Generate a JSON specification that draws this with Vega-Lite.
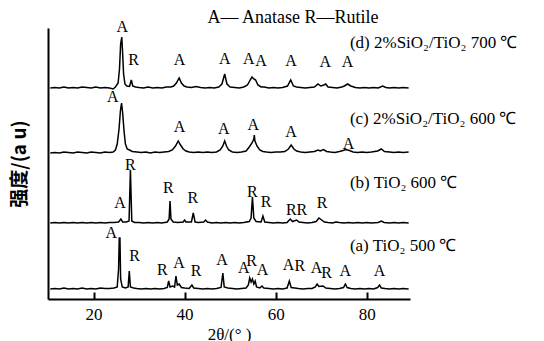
{
  "$schema": "https://vega.github.io/schema/vega-lite/v6.json",
  "width": 362,
  "height": 271,
  "autosize": "none",
  "padding": {"left": 48, "top": 28, "right": 134, "bottom": 42},
  "background": "white",
  "config": {"view": {"stroke": null}},
  "datasets": {
    "xrd": [
      {"s":"d","t":10.5,"v":211},{"s":"d","t":11.5,"v":211.5},{"s":"d","t":12.5,"v":211},{"s":"d","t":13.5,"v":212},{"s":"d","t":14.5,"v":211},{"s":"d","t":15.5,"v":211.5},{"s":"d","t":16.5,"v":211},{"s":"d","t":17.5,"v":212},{"s":"d","t":18.5,"v":211.5},{"s":"d","t":19.5,"v":211},{"s":"d","t":20.5,"v":212},{"s":"d","t":21.5,"v":211},{"s":"d","t":22.5,"v":211.5},{"s":"d","t":23.5,"v":211},{"s":"d","t":24.3,"v":210},{"s":"d","t":24.8,"v":212},{"s":"d","t":25.4,"v":216},{"s":"d","t":25.7,"v":230},{"s":"d","t":25.95,"v":255},{"s":"d","t":26.2,"v":262},{"s":"d","t":26.4,"v":245},{"s":"d","t":26.6,"v":225},{"s":"d","t":26.9,"v":215},{"s":"d","t":27.3,"v":213},{"s":"d","t":27.9,"v":212.5},{"s":"d","t":28.3,"v":219},{"s":"d","t":28.6,"v":213},{"s":"d","t":29.2,"v":212},{"s":"d","t":30,"v":211.5},{"s":"d","t":31,"v":211},{"s":"d","t":32,"v":212},{"s":"d","t":33,"v":211},{"s":"d","t":34,"v":211.5},{"s":"d","t":35,"v":211},{"s":"d","t":36,"v":212},{"s":"d","t":37,"v":212},{"s":"d","t":37.6,"v":213},{"s":"d","t":38.2,"v":216},{"s":"d","t":38.8,"v":221},{"s":"d","t":39.3,"v":216},{"s":"d","t":39.9,"v":213},{"s":"d","t":40.5,"v":212},{"s":"d","t":41.5,"v":211.5},{"s":"d","t":42.5,"v":212.5},{"s":"d","t":43.5,"v":211.5},{"s":"d","t":44.5,"v":211},{"s":"d","t":45.5,"v":211.5},{"s":"d","t":46.5,"v":211},{"s":"d","t":47.5,"v":212},{"s":"d","t":48.2,"v":215},{"s":"d","t":48.8,"v":225},{"s":"d","t":49.3,"v":215},{"s":"d","t":50,"v":212},{"s":"d","t":51,"v":211.5},{"s":"d","t":52,"v":211},{"s":"d","t":53,"v":212},{"s":"d","t":53.8,"v":214},{"s":"d","t":54.4,"v":219},{"s":"d","t":54.8,"v":222},{"s":"d","t":55.2,"v":220},{"s":"d","t":55.6,"v":219},{"s":"d","t":56.1,"v":214},{"s":"d","t":56.8,"v":212},{"s":"d","t":57.5,"v":212},{"s":"d","t":58.5,"v":211},{"s":"d","t":59.5,"v":211.5},{"s":"d","t":60.5,"v":211},{"s":"d","t":61.5,"v":211.5},{"s":"d","t":62.6,"v":213},{"s":"d","t":63.3,"v":219},{"s":"d","t":63.9,"v":213},{"s":"d","t":64.6,"v":212},{"s":"d","t":65.5,"v":211.5},{"s":"d","t":66.5,"v":211},{"s":"d","t":67.5,"v":211.5},{"s":"d","t":68.5,"v":212},{"s":"d","t":69.3,"v":215},{"s":"d","t":69.9,"v":213},{"s":"d","t":70.6,"v":214},{"s":"d","t":71.0,"v":215},{"s":"d","t":71.5,"v":212},{"s":"d","t":72.5,"v":211.5},{"s":"d","t":73.5,"v":211},{"s":"d","t":74.5,"v":212},{"s":"d","t":75.1,"v":213},{"s":"d","t":75.8,"v":215},{"s":"d","t":76.5,"v":213},{"s":"d","t":77.5,"v":211.5},{"s":"d","t":78.5,"v":211},{"s":"d","t":79.5,"v":211.5},{"s":"d","t":80.5,"v":211},{"s":"d","t":81.5,"v":211.5},{"s":"d","t":82.5,"v":211},{"s":"d","t":83.5,"v":213},{"s":"d","t":84.2,"v":211.5},{"s":"d","t":85,"v":211},{"s":"d","t":86,"v":211.5},{"s":"d","t":87,"v":211},{"s":"d","t":88,"v":211.5},{"s":"d","t":89.2,"v":211},

      {"s":"c","t":10.5,"v":146},{"s":"c","t":11.5,"v":146.5},{"s":"c","t":12.5,"v":146},{"s":"c","t":13.5,"v":147},{"s":"c","t":14.5,"v":146.5},{"s":"c","t":15.5,"v":146},{"s":"c","t":16.5,"v":147},{"s":"c","t":17.5,"v":146.5},{"s":"c","t":18.5,"v":146},{"s":"c","t":19.5,"v":147},{"s":"c","t":20.5,"v":146.5},{"s":"c","t":21.5,"v":146},{"s":"c","t":22.5,"v":147},{"s":"c","t":23.5,"v":146.5},{"s":"c","t":24.3,"v":147},{"s":"c","t":24.8,"v":149},{"s":"c","t":25.2,"v":155},{"s":"c","t":25.6,"v":170},{"s":"c","t":25.9,"v":188},{"s":"c","t":26.15,"v":196},{"s":"c","t":26.4,"v":186},{"s":"c","t":26.7,"v":168},{"s":"c","t":27.0,"v":155},{"s":"c","t":27.4,"v":150},{"s":"c","t":27.9,"v":149},{"s":"c","t":28.5,"v":147.5},{"s":"c","t":29.5,"v":147},{"s":"c","t":30.5,"v":146.5},{"s":"c","t":31.5,"v":147},{"s":"c","t":32.5,"v":146},{"s":"c","t":33.5,"v":147},{"s":"c","t":34.5,"v":146.5},{"s":"c","t":35.5,"v":147},{"s":"c","t":36.5,"v":147.5},{"s":"c","t":37.3,"v":149},{"s":"c","t":38.0,"v":153},{"s":"c","t":38.6,"v":158},{"s":"c","t":39.1,"v":154},{"s":"c","t":39.7,"v":150},{"s":"c","t":40.3,"v":148},{"s":"c","t":41,"v":147},{"s":"c","t":42,"v":146.5},{"s":"c","t":43,"v":147},{"s":"c","t":44,"v":146.5},{"s":"c","t":45,"v":147},{"s":"c","t":46,"v":146.5},{"s":"c","t":47,"v":147},{"s":"c","t":47.8,"v":149},{"s":"c","t":48.4,"v":153},{"s":"c","t":48.8,"v":158},{"s":"c","t":49.2,"v":153},{"s":"c","t":49.7,"v":149},{"s":"c","t":50.5,"v":147},{"s":"c","t":51.5,"v":146.5},{"s":"c","t":52.5,"v":147},{"s":"c","t":53.5,"v":148},{"s":"c","t":54.2,"v":152},{"s":"c","t":54.8,"v":156},{"s":"c","t":55.2,"v":160},{"s":"c","t":55.3,"v":164},{"s":"c","t":55.45,"v":158},{"s":"c","t":55.9,"v":153},{"s":"c","t":56.5,"v":149},{"s":"c","t":57.2,"v":147.5},{"s":"c","t":58,"v":147},{"s":"c","t":59,"v":146.5},{"s":"c","t":60,"v":147},{"s":"c","t":61,"v":147},{"s":"c","t":62,"v":147.5},{"s":"c","t":62.8,"v":150},{"s":"c","t":63.4,"v":154},{"s":"c","t":64,"v":150},{"s":"c","t":64.6,"v":148},{"s":"c","t":65.5,"v":147},{"s":"c","t":66.5,"v":146.5},{"s":"c","t":67.5,"v":147},{"s":"c","t":68.5,"v":147.5},{"s":"c","t":69.3,"v":149},{"s":"c","t":69.8,"v":148},{"s":"c","t":70.5,"v":149.5},{"s":"c","t":71.2,"v":147.5},{"s":"c","t":72,"v":147},{"s":"c","t":73,"v":146.5},{"s":"c","t":74,"v":147.5},{"s":"c","t":74.8,"v":148.5},{"s":"c","t":75.4,"v":149.5},{"s":"c","t":76.2,"v":148.5},{"s":"c","t":77,"v":147},{"s":"c","t":78,"v":146.5},{"s":"c","t":79,"v":147},{"s":"c","t":80,"v":146.5},{"s":"c","t":81,"v":147},{"s":"c","t":82.4,"v":148},{"s":"c","t":83.2,"v":150},{"s":"c","t":83.9,"v":147.5},{"s":"c","t":85,"v":147},{"s":"c","t":86,"v":146.5},{"s":"c","t":87,"v":147},{"s":"c","t":88,"v":146.5},{"s":"c","t":89.2,"v":147},

      {"s":"b","t":10.5,"v":76},{"s":"b","t":11.5,"v":76.5},{"s":"b","t":12.5,"v":76},{"s":"b","t":13.5,"v":76.5},{"s":"b","t":14.5,"v":76},{"s":"b","t":15.5,"v":76.5},{"s":"b","t":16.5,"v":76},{"s":"b","t":17.5,"v":76.5},{"s":"b","t":18.5,"v":76},{"s":"b","t":19.5,"v":76.5},{"s":"b","t":20.5,"v":76},{"s":"b","t":21.5,"v":76.5},{"s":"b","t":22.5,"v":76},{"s":"b","t":23.5,"v":76.5},{"s":"b","t":24.5,"v":76.5},{"s":"b","t":25.5,"v":77},{"s":"b","t":26.0,"v":80},{"s":"b","t":26.4,"v":77},{"s":"b","t":27.2,"v":77},{"s":"b","t":27.8,"v":78},{"s":"b","t":28.1,"v":129},{"s":"b","t":28.4,"v":78},{"s":"b","t":29,"v":76.5},{"s":"b","t":30,"v":76.5},{"s":"b","t":31,"v":76},{"s":"b","t":32,"v":76.5},{"s":"b","t":33,"v":76},{"s":"b","t":34,"v":76.5},{"s":"b","t":35,"v":76},{"s":"b","t":36.2,"v":77},{"s":"b","t":36.6,"v":80},{"s":"b","t":36.8,"v":98},{"s":"b","t":37.0,"v":80},{"s":"b","t":37.5,"v":77},{"s":"b","t":38.5,"v":76.5},{"s":"b","t":39.7,"v":77},{"s":"b","t":40.0,"v":79},{"s":"b","t":40.3,"v":77},{"s":"b","t":41.5,"v":77},{"s":"b","t":41.9,"v":86},{"s":"b","t":42.3,"v":77},{"s":"b","t":43,"v":76.5},{"s":"b","t":44.2,"v":77},{"s":"b","t":44.6,"v":79},{"s":"b","t":45,"v":77},{"s":"b","t":46,"v":76},{"s":"b","t":47,"v":76.5},{"s":"b","t":48,"v":76},{"s":"b","t":49,"v":76.5},{"s":"b","t":50,"v":76},{"s":"b","t":51,"v":76.5},{"s":"b","t":52,"v":76},{"s":"b","t":53,"v":76.5},{"s":"b","t":54.2,"v":77.5},{"s":"b","t":54.6,"v":81},{"s":"b","t":54.9,"v":102},{"s":"b","t":55.2,"v":81},{"s":"b","t":55.7,"v":77.5},{"s":"b","t":56.8,"v":77},{"s":"b","t":57.2,"v":83},{"s":"b","t":57.6,"v":77},{"s":"b","t":58.5,"v":76.5},{"s":"b","t":59.5,"v":76},{"s":"b","t":60.5,"v":76.5},{"s":"b","t":61.5,"v":76},{"s":"b","t":62.5,"v":76.5},{"s":"b","t":63.2,"v":80},{"s":"b","t":63.7,"v":77.5},{"s":"b","t":64.6,"v":79},{"s":"b","t":65.1,"v":77},{"s":"b","t":66,"v":76.5},{"s":"b","t":67,"v":76},{"s":"b","t":68,"v":76.5},{"s":"b","t":68.9,"v":77.5},{"s":"b","t":69.5,"v":81},{"s":"b","t":70.1,"v":79},{"s":"b","t":70.7,"v":77},{"s":"b","t":71.5,"v":76.5},{"s":"b","t":72.5,"v":76},{"s":"b","t":73.2,"v":77},{"s":"b","t":74,"v":76.5},{"s":"b","t":75,"v":76},{"s":"b","t":76,"v":76.5},{"s":"b","t":77,"v":76},{"s":"b","t":78,"v":76.5},{"s":"b","t":79,"v":76},{"s":"b","t":80,"v":76.5},{"s":"b","t":81,"v":76},{"s":"b","t":82.5,"v":76.5},{"s":"b","t":83.2,"v":78},{"s":"b","t":83.8,"v":76.5},{"s":"b","t":85,"v":76},{"s":"b","t":86,"v":76.5},{"s":"b","t":87,"v":76},{"s":"b","t":88,"v":76.5},{"s":"b","t":89.2,"v":76},

      {"s":"a","t":10.5,"v":10},{"s":"a","t":11.5,"v":10.5},{"s":"a","t":12.5,"v":10},{"s":"a","t":13.5,"v":11},{"s":"a","t":14.5,"v":10},{"s":"a","t":15.5,"v":10.5},{"s":"a","t":16.5,"v":10},{"s":"a","t":17.5,"v":11},{"s":"a","t":18.5,"v":10},{"s":"a","t":19.5,"v":10.5},{"s":"a","t":20.5,"v":10},{"s":"a","t":21.5,"v":11},{"s":"a","t":22.5,"v":10.5},{"s":"a","t":23.5,"v":10.5},{"s":"a","t":24.5,"v":11},{"s":"a","t":25.2,"v":12},{"s":"a","t":25.5,"v":30},{"s":"a","t":25.65,"v":61},{"s":"a","t":25.8,"v":61},{"s":"a","t":25.95,"v":20},{"s":"a","t":26.3,"v":12},{"s":"a","t":27.0,"v":11},{"s":"a","t":27.6,"v":12},{"s":"a","t":27.85,"v":28},{"s":"a","t":28.1,"v":12},{"s":"a","t":28.8,"v":11},{"s":"a","t":29.5,"v":10.5},{"s":"a","t":30.5,"v":10},{"s":"a","t":31.5,"v":10.5},{"s":"a","t":32.5,"v":10},{"s":"a","t":33.5,"v":10.5},{"s":"a","t":34.5,"v":10},{"s":"a","t":35.5,"v":10.5},{"s":"a","t":36.2,"v":11.5},{"s":"a","t":36.5,"v":18},{"s":"a","t":36.8,"v":12},{"s":"a","t":37.4,"v":13},{"s":"a","t":37.8,"v":12},{"s":"a","t":38.1,"v":23},{"s":"a","t":38.4,"v":14},{"s":"a","t":38.8,"v":15},{"s":"a","t":39.3,"v":11.5},{"s":"a","t":40,"v":11},{"s":"a","t":41,"v":10.5},{"s":"a","t":41.6,"v":14},{"s":"a","t":42,"v":11},{"s":"a","t":43,"v":10.5},{"s":"a","t":44,"v":10},{"s":"a","t":45,"v":10.5},{"s":"a","t":46,"v":10},{"s":"a","t":47,"v":10.5},{"s":"a","t":48.0,"v":11.5},{"s":"a","t":48.4,"v":26},{"s":"a","t":48.7,"v":12},{"s":"a","t":49.5,"v":11},{"s":"a","t":50.5,"v":10.5},{"s":"a","t":51.5,"v":10},{"s":"a","t":52.5,"v":10.5},{"s":"a","t":53.5,"v":11},{"s":"a","t":54.0,"v":14},{"s":"a","t":54.3,"v":21},{"s":"a","t":54.6,"v":17},{"s":"a","t":54.9,"v":20},{"s":"a","t":55.2,"v":15},{"s":"a","t":55.5,"v":18},{"s":"a","t":55.8,"v":12},{"s":"a","t":56.5,"v":11},{"s":"a","t":57.0,"v":13},{"s":"a","t":57.4,"v":11},{"s":"a","t":58.5,"v":10.5},{"s":"a","t":59.5,"v":10},{"s":"a","t":60.5,"v":10.5},{"s":"a","t":61.5,"v":10},{"s":"a","t":62.5,"v":11},{"s":"a","t":63.0,"v":18},{"s":"a","t":63.4,"v":11.5},{"s":"a","t":64.2,"v":11},{"s":"a","t":65,"v":10.5},{"s":"a","t":66,"v":10},{"s":"a","t":67,"v":10.5},{"s":"a","t":68,"v":10.5},{"s":"a","t":68.7,"v":12},{"s":"a","t":69.1,"v":15},{"s":"a","t":69.5,"v":12.5},{"s":"a","t":70.4,"v":13},{"s":"a","t":71,"v":11},{"s":"a","t":72,"v":10.5},{"s":"a","t":73,"v":10},{"s":"a","t":74,"v":10.5},{"s":"a","t":74.9,"v":11.5},{"s":"a","t":75.3,"v":15},{"s":"a","t":75.7,"v":11.5},{"s":"a","t":76.5,"v":10.5},{"s":"a","t":77.5,"v":10},{"s":"a","t":78.5,"v":10.5},{"s":"a","t":79.5,"v":10},{"s":"a","t":80.5,"v":10.5},{"s":"a","t":81.5,"v":10},{"s":"a","t":82.4,"v":11.5},{"s":"a","t":82.8,"v":14},{"s":"a","t":83.2,"v":11},{"s":"a","t":84,"v":10.5},{"s":"a","t":85,"v":10},{"s":"a","t":86,"v":10.5},{"s":"a","t":87,"v":10},{"s":"a","t":88,"v":10.5},{"s":"a","t":89.2,"v":10}
    ],
    "peaks": [
      {"t":26.3,"v":272,"l":"A"},{"t":28.8,"v":239,"l":"R"},{"t":38.9,"v":239,"l":"A"},{"t":48.8,"v":240,"l":"A"},{"t":54.1,"v":240,"l":"A"},{"t":56.8,"v":238,"l":"A"},{"t":63.4,"v":238,"l":"A"},{"t":70.9,"v":237,"l":"A"},{"t":75.8,"v":237,"l":"A"},
      {"t":24.2,"v":202,"l":"A"},{"t":38.9,"v":172,"l":"A"},{"t":48.6,"v":170,"l":"A"},{"t":55.1,"v":174,"l":"A"},{"t":63.4,"v":167,"l":"A"},{"t":76.0,"v":155,"l":"A"},
      {"t":28.1,"v":134,"l":"R"},{"t":25.8,"v":96,"l":"A"},{"t":36.4,"v":111,"l":"R"},{"t":41.8,"v":101,"l":"R"},{"t":54.9,"v":107,"l":"R"},{"t":57.9,"v":97,"l":"R"},{"t":64.6,"v":89,"l":"RR"},{"t":70.2,"v":96,"l":"R"},
      {"t":23.9,"v":66,"l":"A"},{"t":29.0,"v":43,"l":"R"},{"t":35.1,"v":29,"l":"R"},{"t":38.8,"v":36,"l":"A"},{"t":42.5,"v":28,"l":"R"},{"t":48.2,"v":39,"l":"A"},{"t":53.0,"v":31,"l":"A"},{"t":54.7,"v":38,"l":"R"},{"t":57.1,"v":29,"l":"A"},{"t":62.8,"v":34,"l":"A"},{"t":65.3,"v":33,"l":"R"},{"t":69.0,"v":31,"l":"A"},{"t":71.2,"v":26,"l":"R"},{"t":75.3,"v":28,"l":"A"},{"t":82.8,"v":28,"l":"A"}
    ],
    "names": [
      {"t":76.3,"v":256,"l":"(d) 2%SiO₂/TiO₂ 700 ℃"},
      {"t":76.3,"v":180,"l":"(c) 2%SiO₂/TiO₂ 600 ℃"},
      {"t":76.3,"v":116,"l":"(b) TiO₂ 600 ℃"},
      {"t":76.3,"v":53,"l":"(a) TiO₂ 500 ℃"}
    ],
    "legend": [
      {"t":63.8,"v":281,"l":"A— Anatase   R—Rutile"}
    ]
  },
  "encoding": {
    "x": {"field": "t", "type": "quantitative",
      "scale": {"domain": [10, 89.5], "nice": false, "zero": false},
      "axis": {"title": "2θ/(°  )", "values": [20, 40, 60, 80], "grid": false,
        "tickSize": -7, "tickWidth": 2, "tickColor": "black",
        "domainColor": "black", "domainWidth": 2,
        "labelFont": "Liberation Serif", "labelFontSize": 17, "labelColor": "black", "labelPadding": 14,
        "titleFont": "Liberation Serif", "titleFontSize": 17, "titleFontWeight": "normal", "titleColor": "black", "titlePadding": 4}},
    "y": {"field": "v", "type": "quantitative",
      "scale": {"domain": [0, 271], "nice": false, "zero": false},
      "axis": {"title": "强度/(a u)", "labels": false, "ticks": false, "grid": false,
        "domainColor": "black", "domainWidth": 2,
        "titleFont": "Noto Sans CJK SC", "titleFontSize": 19, "titleFontWeight": "bold", "titleColor": "black", "titlePadding": 19}}
  },
  "layer": [
    {"data": {"name": "xrd"},
     "mark": {"type": "line", "color": "black", "strokeWidth": 1.5, "clip": true},
     "encoding": {"detail": {"field": "s"}}},
    {"data": {"name": "peaks"},
     "mark": {"type": "text", "font": "Liberation Serif", "fontSize": 16, "color": "black", "align": "center", "baseline": "middle"},
     "encoding": {"text": {"field": "l"}}},
    {"data": {"name": "names"},
     "mark": {"type": "text", "font": "Liberation Serif", "fontSize": 17, "color": "black", "align": "left", "baseline": "middle"},
     "encoding": {"text": {"field": "l"}}},
    {"data": {"name": "legend"},
     "mark": {"type": "text", "font": "Liberation Serif", "fontSize": 18, "color": "black", "align": "center", "baseline": "middle"},
     "encoding": {"text": {"field": "l"}}}
  ]
}
